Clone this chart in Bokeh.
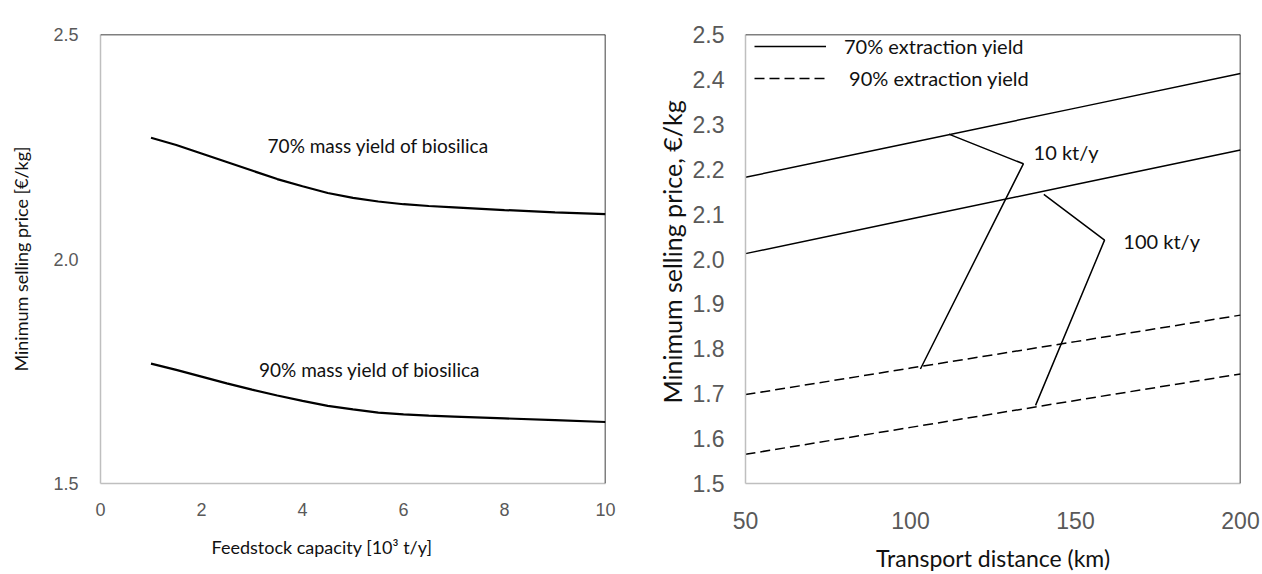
from bokeh.plotting import figure
from bokeh.layouts import row
from bokeh.models import (Span, Range1d, FixedTicker, Legend, LegendItem,
                          CustomJSTickFormatter, Title)
from bokeh.core.properties import value
from bokeh.embed import file_html
from bokeh.resources import INLINE

# ---- left panel: price vs feedstock capacity ----
capacity = [1, 1.5, 2, 2.5, 3, 3.5, 4, 4.5, 5, 5.5, 6, 6.5, 7, 8, 9, 10]
price_70 = [2.270, 2.254, 2.235, 2.216, 2.197, 2.178, 2.162, 2.147, 2.136,
            2.128, 2.122, 2.118, 2.115, 2.109, 2.104, 2.100]
price_90 = [1.767, 1.753, 1.738, 1.723, 1.709, 1.696, 1.684, 1.673, 1.665,
            1.658, 1.654, 1.651, 1.649, 1.645, 1.641, 1.637]
left_xticks = [0, 2, 4, 6, 8, 10]
left_yticks = [1.5, 2.0, 2.5]

# ---- right panel: price vs transport distance ----
distance = [50, 100, 150, 200]
p70_10kt = [2.182, 2.259, 2.336, 2.413]
p70_100kt = [2.012, 2.089, 2.166, 2.243]
p90_10kt = [1.698, 1.757, 1.816, 1.875]
p90_100kt = [1.565, 1.625, 1.685, 1.744]
right_xticks = [50, 100, 150, 200]
right_yticks = [1.5, 1.6, 1.7, 1.8, 1.9, 2.0, 2.1, 2.2, 2.3, 2.4, 2.5]

# leader lines for the capacity callouts
lead_10kt_x = [111.6, 134.2, 103.0]
lead_10kt_y = [2.278, 2.212, 1.755]
lead_100kt_x = [140.4, 158.8, 137.9]
lead_100kt_y = [2.144, 2.042, 1.674]

TICK_FONT = "Liberation Sans"
TEXT_FONT = "Lato"
GRAY_AXIS = "#BFBFBF"
GRAY_TEXT = "#595959"
INK = "#111111"


def style_axes(p, tick_size, title_size, ystand, xstand):
    for ax in (p.xaxis[0], p.yaxis[0]):
        ax.axis_line_color = GRAY_AXIS
        ax.axis_line_width = 1.5
        ax.major_tick_line_color = None
        ax.minor_tick_line_color = None
        ax.major_label_text_font = TICK_FONT
        ax.major_label_text_color = GRAY_TEXT
        ax.major_label_text_font_size = tick_size
        ax.axis_label_text_font = TEXT_FONT
        ax.axis_label_text_font_style = "normal"
        ax.axis_label_text_color = INK
        ax.axis_label_text_font_size = title_size
    p.yaxis[0].major_label_standoff = ystand
    p.xaxis[0].major_label_standoff = xstand
    p.xgrid.grid_line_color = None
    p.ygrid.grid_line_color = None
    p.outline_line_color = None


def side_title(text, size, offset, standoff):
    # axis title anchored at one end of the frame, shifted along it by `offset`
    return Title(text=text, align="left", offset=offset, standoff=standoff,
                 text_font=TEXT_FONT, text_font_size=size,
                 text_font_style="normal", text_color=INK)


# left figure
left = figure(width=640, height=574, output_backend="svg", toolbar_location=None,
              x_range=Range1d(0, 10), y_range=Range1d(1.5, 2.5),
              min_border_left=100, min_border_right=35,
              min_border_top=24, min_border_bottom=90)
left.xaxis.ticker = FixedTicker(ticks=left_xticks)
left.yaxis.ticker = FixedTicker(ticks=left_yticks)
left.yaxis.formatter = CustomJSTickFormatter(code="return tick.toFixed(1);")
style_axes(left, "18px", "18px", 16, 13)
left.yaxis.axis_label = "Minimum selling price [\u20ac/kg]"
left.yaxis.axis_label_standoff = 18
left.add_layout(side_title("Feedstock capacity [10\u00b3 t/y]", "18px", 111, 31), "below")
left.add_layout(Span(location=2.5, dimension="width", line_color="black", line_width=1.5))
left.add_layout(Span(location=10, dimension="height", line_color="black", line_width=1.5))

left.line(capacity, price_70, line_color="black", line_width=2.2)
left.line(capacity, price_90, line_color="black", line_width=2.2)
left.text(x=[5.50, 5.33], y=[2.252, 1.754],
          text=["70% mass yield of biosilica", "90% mass yield of biosilica"],
          text_font=value(TEXT_FONT), text_font_size="19px", text_color=INK,
          text_align="center", text_baseline="middle")

# right figure
right = figure(width=622, height=574, output_backend="svg", toolbar_location=None,
               x_range=Range1d(50, 200), y_range=Range1d(1.5, 2.5),
               min_border_left=105, min_border_right=22,
               min_border_top=34, min_border_bottom=81)
right.xaxis.ticker = FixedTicker(ticks=right_xticks)
right.yaxis.ticker = FixedTicker(ticks=right_yticks)
right.yaxis.formatter = CustomJSTickFormatter(code="return tick.toFixed(1);")
style_axes(right, "23px", "23px", 15, 22)
right.xaxis.axis_label = "Transport distance (km)"
right.xaxis.axis_label_standoff = 12
right.add_layout(side_title("Minimum selling price, \u20ac/kg", "25px", 80, 5), "left")
right.add_layout(Span(location=2.5, dimension="width", line_color="black", line_width=1.5))
right.add_layout(Span(location=200, dimension="height", line_color="black", line_width=1.5))

r70a = right.line(distance, p70_10kt, line_color="black", line_width=1.5)
right.line(distance, p70_100kt, line_color="black", line_width=1.5)
r90a = right.line(distance, p90_10kt, line_color="black", line_width=1.5, line_dash="10 5")
right.line(distance, p90_100kt, line_color="black", line_width=1.5, line_dash="10 5")

right.line(lead_10kt_x, lead_10kt_y, line_color="black", line_width=1.5)
right.line(lead_100kt_x, lead_100kt_y, line_color="black", line_width=1.5)
right.text(x=[137.3, 164.5], y=[2.239, 2.040], text=["10 kt/y", "100 kt/y"],
           text_font=value(TEXT_FONT), text_font_size="20px", text_color=INK,
           text_align="left", text_baseline="middle")

legend = Legend(items=[LegendItem(label="70% extraction yield", renderers=[r70a]),
                       LegendItem(label=" 90% extraction yield", renderers=[r90a])],
                location=(9, 393), glyph_width=72, glyph_height=22,
                label_standoff=18, label_height=22, spacing=8,
                border_line_color=None, background_fill_alpha=0)
legend.label_text_font = TEXT_FONT
legend.label_text_font_size = "20px"
legend.label_text_color = INK
legend.margin = 0
legend.padding = 0
right.add_layout(legend)

layout = row(left, right)
open("out.html", "w").write(file_html(layout, INLINE))
